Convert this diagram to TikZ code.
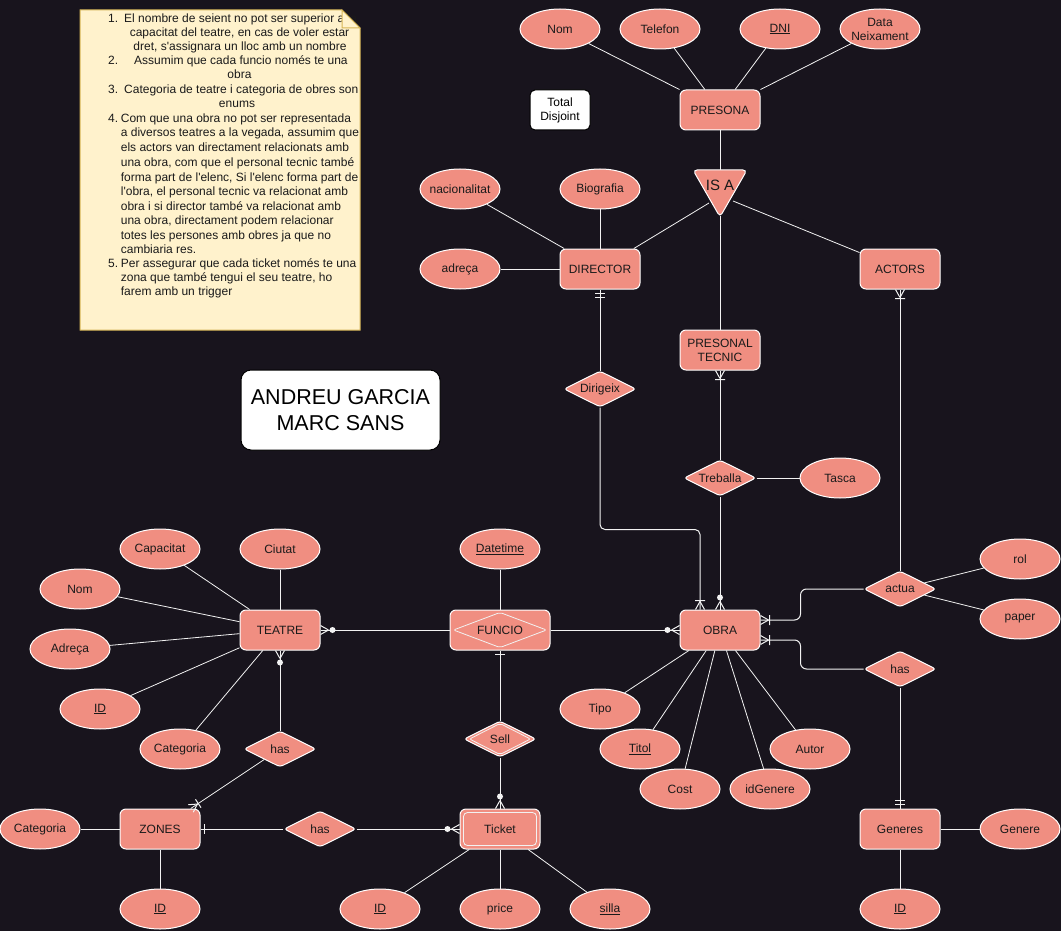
\documentclass[tikz,border=0pt]{standalone}
\usepackage{fontspec}
\setmainfont{Liberation Sans}
\usetikzlibrary{shapes.geometric,decorations.markings,calc}
\definecolor{bg}{HTML}{18141D}
\definecolor{sal}{HTML}{F08E81}
\definecolor{tx}{HTML}{1A1A1A}
\definecolor{ln}{HTML}{F2F2F2}
\definecolor{notef}{HTML}{FFF2CC}
\definecolor{noted}{HTML}{D6B656}
\newcommand\erZM{\draw[ln,line width=1pt] (-8pt,0pt) -- (0pt,4.5pt) (-8pt,0pt) -- (0pt,-4.5pt); \fill[ln] (-12pt,0pt) circle (3pt);}
\newcommand\erOM{\draw[ln,line width=1pt] (-8pt,0pt) -- (0pt,4.5pt) (-8pt,0pt) -- (0pt,-4.5pt) (-9pt,-5pt) -- (-9pt,5pt);}
\newcommand\erMO{\draw[ln,line width=1pt] (-4pt,-5pt) -- (-4pt,5pt) (-8pt,-5pt) -- (-8pt,5pt);}
\newcommand\erO{\draw[ln,line width=1pt] (-3.5pt,-5pt) -- (-3.5pt,5pt);}
\tikzset{
  ent/.style={draw=white, fill=sal, rounded corners=6pt, minimum width=80pt, minimum height=40pt, inner sep=0pt, text=tx, font=\fontsize{12}{14}\selectfont, align=center, line width=1pt},
  attr/.style={ellipse, draw=white, fill=sal, minimum width=80pt, minimum height=40pt, inner ysep=0pt, inner xsep=-14pt, text=tx, font=\fontsize{12}{14}\selectfont, align=center, line width=1pt},
  rel/.style={diamond, aspect=2, draw=white, fill=sal, minimum width=72pt, minimum height=36pt, inner sep=0pt, rounded corners=3pt, text=tx, font=\fontsize{12}{14}\selectfont, line width=1pt},
  lnk/.style={draw=ln, line width=1pt},
  alnk/.style={draw=ln, line width=0.8pt},
  zm/.style={postaction={decorate,decoration={markings,mark=at position 1 with {\erZM}}}},
  om/.style={postaction={decorate,decoration={markings,mark=at position 1 with {\erOM}}}},
  mo/.style={postaction={decorate,decoration={markings,mark=at position 1 with {\erMO}}}},
  onebar/.style={postaction={decorate,decoration={markings,mark=at position 1 with {\erO}}}},
  nt/.style={text=tx, font=\fontsize{12}{14}\selectfont, inner sep=0pt},
}
\begin{document}
\begin{tikzpicture}[x=1pt,y=-1pt]
\useasboundingbox (0,0) rectangle (1061,931);
\fill[bg] (0,0) rectangle (1061,931);

% ---------- note ----------
\path[fill=notef, draw=noted, line width=1pt] (80,10) -- (342,10) -- (360,28) -- (360,330) -- (80,330) -- cycle;
\node[nt, anchor=base west] (n1a) at (108,22.5) {1.};
\node[nt, anchor=base west] (n1b) at (124,22.5) {El nombre de seient no pot ser superior a la};
\node[nt, anchor=base] (n2) at (239.5,36.5) {capacitat del teatre, en cas de voler estar};
\node[nt, anchor=base] (n3) at (240,51) {dret, s\textquotesingle assignara un lloc amb un nombre};
\node[nt, anchor=base west] (n4a) at (108,65) {2.};
\node[nt, anchor=base west] (n4b) at (134,65) {Assumim que cada funcio només te una};
\node[nt, anchor=base] (n5) at (239.5,79) {obra};
\node[nt, anchor=base west] (n6a) at (108,94) {3.};
\node[nt, anchor=base west] (n6b) at (124,94) {Categoria de teatre i categoria de obres son};
\node[nt, anchor=base] (n7) at (237,108) {enums};
\node[nt, anchor=base west] (n8a) at (108,122.5) {4.};
\node[nt, anchor=base west] (n8b) at (120.7,122.5) {Com que una obra no pot ser representada};
\node[nt, anchor=base west] (n9) at (120.7,137) {a diversos teatres a la vegada, assumim que};
\node[nt, anchor=base west] (n10) at (120.7,151.5) {els actors van directament relacionats amb};
\node[nt, anchor=base west] (n11) at (120.7,167) {una obra, com que el personal tecnic també};
\node[nt, anchor=base west] (n12) at (120.7,182) {forma part de l\textquotesingle elenc, Si l\textquotesingle elenc forma part de};
\node[nt, anchor=base west] (n13) at (120.7,196) {l\textquotesingle obra, el personal tecnic va relacionat amb};
\node[nt, anchor=base west] (n14) at (120.7,210.5) {obra i si director també va relacionat amb};
\node[nt, anchor=base west] (n15) at (120.7,225) {una obra, directament podem relacionar};
\node[nt, anchor=base west] (n16) at (120.7,239) {totes les persones amb obres ja que no};
\node[nt, anchor=base west] (n17) at (120.7,253) {cambiaria res.};
\node[nt, anchor=base west] (n18a) at (108,267.5) {5.};
\node[nt, anchor=base west] (n18b) at (120.7,267.5) {Per assegurar que cada ticket només te una};
\node[nt, anchor=base west] (n19) at (120.7,281.5) {zona que també tengui el seu teatre, ho};
\node[nt, anchor=base west] (n20) at (120.7,295.5) {farem amb un trigger};
\path[fill=notef, draw=noted, line width=1pt] (342,10) -- (342,28) -- (360,28) -- cycle;

% ---------- boxes ----------
\node[draw=black, fill=white, rounded corners=10pt, minimum width=199pt, minimum height=80pt, align=center, text=black, font=\fontsize{21.5}{26}\selectfont, line width=1pt] (names) at (340.5,410) {ANDREU GARCIA\\MARC SANS};
\node[draw=black, fill=white, rounded corners=5pt, minimum width=60pt, minimum height=40pt, inner sep=0pt, align=center, text=black, font=\fontsize{12}{14}\selectfont, line width=1pt] (totdis) at (560,110) {Total\\Disjoint};

% ---------- PRESONA ----------
\node[ent] (pres) at (720,110) {PRESONA};
\node[attr] (pnom) at (560,29) {Nom};
\node[attr] (ptel) at (660,29) {Telefon};
\node[attr] (pdni) at (780,29) {\underline{DNI}};
\node[attr] (pdata) at (880,29) {Data\\Neixament};
\path[draw=white, fill=sal, rounded corners=4pt, line width=1pt] (693,170) -- (747,170) -- (720,217) -- cycle;
\node[text=tx, font=\fontsize{15}{17}\selectfont, inner sep=0pt] (isa) at (720,185) {IS A};
\coordinate (isaT) at (720,170);
\coordinate (isaB) at (720,216);
\coordinate (isaL) at (709,203);
\coordinate (isaR) at (733,201);

\node[ent] (director) at (600,269) {DIRECTOR};
\node[attr] (dnac) at (460,189) {nacionalitat};
\node[attr] (dbio) at (600,189) {Biografia};
\node[attr] (dadr) at (460,269) {adreça};
\node[ent] (actors) at (900,269) {ACTORS};
\node[ent] (ptec) at (720,350) {PRESONAL\\TECNIC};
\node[rel] (dirig) at (600,389) {Dirigeix};
\node[rel] (treb) at (720,478) {Treballa};
\node[attr] (tasca) at (840,478) {Tasca};

% ---------- OBRA ----------
\node[ent] (obra) at (720,630) {OBRA};
\node[rel] (actua) at (900,589) {actua};
\node[attr] (rol) at (1020,559) {rol};
\node[attr] (paper) at (1020,619) {paper};
\node[rel] (has3) at (900,669) {has};
\node[ent] (generes) at (900,829) {Generes};
\node[attr] (genere) at (1020,829) {Genere};
\node[attr] (gid) at (900,909) {\underline{ID}};
\node[attr] (otipo) at (600,709) {Tipo};
\node[attr] (otitol) at (640,749) {\underline{Titol}};
\node[attr] (ocost) at (680,789) {Cost};
\node[attr] (oidg) at (770,789) {idGenere};
\node[attr] (oautor) at (810,749) {Autor};

% ---------- FUNCIO / Ticket ----------
\node[ent, minimum width=100pt] (funcio) at (500,630) {};
\draw[ln, line width=0.8pt, rounded corners=2pt] ($(funcio.west)+(4,0)$) -- ($(funcio.north)+(0,3)$) -- ($(funcio.east)+(-4,0)$) -- ($(funcio.south)+(0,-3)$) -- cycle;
\node[text=tx, font=\fontsize{12}{14}\selectfont, inner sep=0pt] (funciot) at (500,630) {FUNCIO};
\node[attr] (fdt) at (500,549) {\underline{Datetime}};
\node[rel] (sell) at (500,739) {};
\draw[ln, line width=0.8pt, rounded corners=2pt] ($(sell.west)+(6,0)$) -- ($(sell.north)+(0,3)$) -- ($(sell.east)+(-6,0)$) -- ($(sell.south)+(0,-3)$) -- cycle;
\node[text=tx, font=\fontsize{12}{14}\selectfont, inner sep=0pt] (sellt) at (500,739) {Sell};
\node[ent] (ticket) at (500,829) {};
\draw[ln, line width=0.8pt, rounded corners=4pt] ($(ticket.south west)+(4,-4)$) rectangle ($(ticket.north east)+(-4,4)$);
\node[text=tx, font=\fontsize{12}{14}\selectfont, inner sep=0pt] (tickett) at (500,829) {Ticket};
\node[attr] (tid) at (380,909) {\underline{ID}};
\node[attr] (tprice) at (500,909) {price};
\node[attr] (tsilla) at (610,909) {\underline{silla}};

% ---------- TEATRE / ZONES ----------
\node[ent] (teatre) at (280,630) {TEATRE};
\node[attr] (tcap) at (160,549) {Capacitat};
\node[attr] (tciu) at (280,549) {Ciutat};
\node[attr] (tnom) at (80,589) {Nom};
\node[attr] (tadr) at (70,649) {Adreça};
\node[attr] (tid2) at (100,709) {\underline{ID}};
\node[attr] (tcat) at (180,749) {Categoria};
\node[rel] (has1) at (280,749) {has};
\node[ent] (zones) at (160,829) {ZONES};
\node[attr] (zcat) at (40,829) {Categoria};
\node[attr] (zid) at (160,909) {\underline{ID}};
\node[rel] (has2) at (320,829) {has};

% ---------- connectors ----------
\draw[alnk] (pnom) -- (pres);
\draw[alnk] (ptel) -- (pres);
\draw[alnk] (pdni) -- (pres);
\draw[alnk] (pdata) -- (pres);
\draw[lnk] (pres) -- (isaT);
\draw[alnk] (isaL) -- (director);
\draw[alnk] (isaR) -- (actors);
\draw[lnk] (isaB) -- (ptec);
\draw[alnk] (dnac) -- (director);
\draw[lnk] (dbio) -- (director);
\draw[lnk] (dadr) -- (director);
\draw[lnk, mo] (dirig) -- (director);
\draw[lnk, om] (treb) -- (ptec);
\draw[lnk] (treb) -- (tasca);
\draw[lnk, rounded corners=5pt, om] (dirig.south) |- ($(obra.north)+(-50,-80)$) -| ($(obra.north)+(-20,0)$);
\draw[lnk, zm] (treb.south) -- (obra.north);
\draw[lnk, om] (actua) -- (actors);
\draw[lnk, rounded corners=6pt, om] (actua.west) -| ($(obra.east)+(40,-10)$) -- ($(obra.east)+(0,-10)$);
\draw[lnk, rounded corners=6pt, om] (has3.west) -| ($(obra.east)+(40,10)$) -- ($(obra.east)+(0,10)$);
\draw[alnk] (actua) -- (rol);
\draw[alnk] (actua) -- (paper);
\draw[lnk, mo] (has3) -- (generes);
\draw[lnk] (generes) -- (genere);
\draw[lnk] (generes) -- (gid);
\draw[alnk] (otipo) -- (obra);
\draw[alnk] (otitol) -- (obra);
\draw[alnk] (ocost) -- (obra);
\draw[alnk] (oidg) -- (obra);
\draw[alnk] (oautor) -- (obra);
\draw[lnk, zm] (funcio) -- (obra);
\draw[lnk, zm] (funcio) -- (teatre);
\draw[lnk] (fdt) -- (funcio);
\draw[lnk, onebar] (sell) -- (funcio);
\draw[lnk, zm] (sell) -- (ticket);
\draw[alnk] (tid) -- (ticket);
\draw[lnk] (tprice) -- (ticket);
\draw[alnk] (tsilla) -- (ticket);
\draw[alnk] (tcap) -- (teatre);
\draw[lnk] (tciu) -- (teatre);
\draw[alnk] (tnom) -- (teatre);
\draw[alnk] (tadr) -- (teatre);
\draw[alnk] (tid2) -- (teatre);
\draw[alnk] (tcat) -- (teatre);
\draw[lnk, zm] (has1) -- (teatre);
\draw[alnk, om] (has1) -- (zones);
\draw[lnk, onebar] (has2) -- (zones);
\draw[lnk, zm] (has2) -- (ticket);
\draw[lnk] (zcat) -- (zones);
\draw[lnk] (zid) -- (zones);
\end{tikzpicture}
\end{document}
